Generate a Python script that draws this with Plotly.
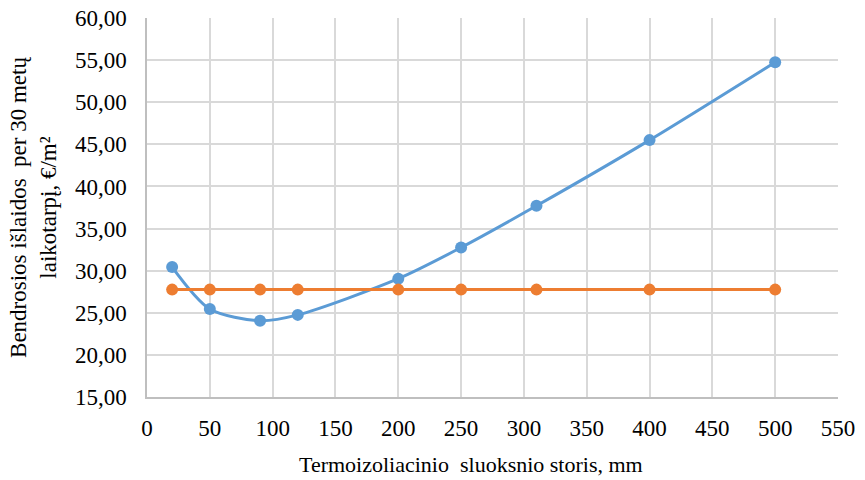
import plotly.graph_objects as go

# Insulation thickness, mm
thickness = [20, 50, 90, 120, 200, 250, 310, 400, 500]
# Total costs over 30 years, EUR/m2
total_costs = [30.43, 25.45, 24.05, 24.75, 29.05, 32.75, 37.7, 45.5, 54.75]
reference_costs = [27.75, 27.75, 27.75, 27.75, 27.75, 27.75, 27.75, 27.75, 27.75]

x_ticks = [0, 50, 100, 150, 200, 250, 300, 350, 400, 450, 500, 550]
y_ticks = [15, 20, 25, 30, 35, 40, 45, 50, 55, 60]

x_title = "Termoizoliacinio  sluoksnio storis, mm"
y_title = "Bendrosios išlaidos  per 30 metų<br>laikotarpį, €/m²"

BLUE = "#5b9bd5"
ORANGE = "#ed7d31"
FONT = "Liberation Serif, Times New Roman, serif"
TICK_FONT = dict(family=FONT, size=23, color="#000000")

fig = go.Figure()
fig.add_trace(go.Scatter(
    x=thickness, y=total_costs, mode="lines+markers",
    line=dict(color=BLUE, width=3, shape="spline", smoothing=0.8),
    marker=dict(color=BLUE, size=12),
    showlegend=False,
))
fig.add_trace(go.Scatter(
    x=thickness, y=reference_costs, mode="lines+markers",
    line=dict(color=ORANGE, width=3),
    marker=dict(color=ORANGE, size=12),
    showlegend=False,
))

fig.update_layout(
    width=865, height=480,
    margin=dict(l=147, r=27, t=18, b=83, autoexpand=False),
    paper_bgcolor="white", plot_bgcolor="white",
    separators=", ",
    font=dict(family=FONT, size=21, color="#000000"),
    annotations=[dict(
        text=x_title, xref="paper", yref="paper", x=0.469, y=-0.179,
        xanchor="center", yanchor="middle", showarrow=False,
        font=dict(family=FONT, size=22, color="#000000"),
    )],
)
fig.update_xaxes(
    range=[0, 550], tickvals=x_ticks, ticktext=[str(v) for v in x_ticks],
    showgrid=True, gridcolor="#d9d9d9", gridwidth=1.5,
    showline=True, linecolor="#bfbfbf", linewidth=1.5,
    zeroline=False, ticks="outside", ticklen=10, tickcolor="rgba(0,0,0,0)",
    tickfont=TICK_FONT,
)
fig.update_yaxes(
    range=[15, 60], tickvals=y_ticks, tickformat=".2f",
    showgrid=True, gridcolor="#d9d9d9", gridwidth=1.5,
    showline=True, linecolor="#bfbfbf", linewidth=1.5,
    zeroline=False, ticks="outside", ticklen=14, tickcolor="rgba(0,0,0,0)",
    tickfont=TICK_FONT,
    title=dict(text=y_title,
               font=dict(family=FONT, size=23, color="#000000"), standoff=12),
)

fig.write_html("out.html")
